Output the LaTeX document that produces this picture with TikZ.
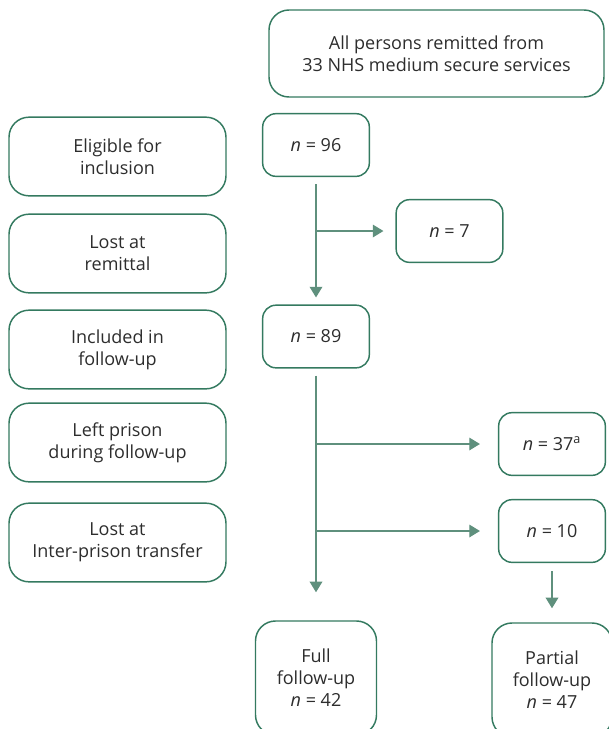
\documentclass[tikz,border=0pt]{standalone}
\usepackage{fontspec}
\setmainfont{Open Sans}
\usetikzlibrary{arrows.meta}

\definecolor{boxgreen}{RGB}{52,122,96}
\definecolor{arrowgreen}{RGB}{95,144,125}
\definecolor{textgrey}{RGB}{45,45,45}

\tikzset{
	stagebox/.style={draw=boxgreen, line width=1.1pt, rounded corners=15pt, align=center, text=textgrey, inner sep=0pt, font=\fontsize{13.5}{16.5}\selectfont},
	countbox/.style={stagebox, rounded corners=10pt, minimum width=80pt, minimum height=47pt},
	labelbox/.style={stagebox, minimum width=162.75pt, minimum height=59pt},
	flow/.style={draw=arrowgreen, line width=1pt, -{Triangle[width=9.5pt,length=8pt]}}
}

\begin{document}
\begin{tikzpicture}[x=0.75pt,y=0.75pt,yscale=-1,xscale=1]
	\useasboundingbox (0,0) rectangle (609,729);
	\clip (0,0) rectangle (609,729);
	
	% Top box
	\node [stagebox, minimum width=251.25pt, minimum height=65.25pt] (all) at (436.5,53.5) {All persons remitted from\\33 NHS medium secure services};
	
	% Left column
	\node [labelbox] (eligible) at (117.5,156.5) {Eligible for\\inclusion};
	\node [labelbox] (lostrem) at (117.5,253.5) {Lost at\\remittal};
	\node [labelbox] (included) at (117.5,349.5) {Included in\\follow-up};
	\node [labelbox] (leftpr) at (117.5,442.5) {Left prison\\during follow-up};
	\node [labelbox] (losttr) at (117.5,542.5) {Lost at\\Inter-prison transfer};
	
	% Counts
	\node [countbox] (n96) at (316,145) {\textit{n} = 96};
	\node [countbox] (n7) at (449.5,231) {\textit{n} = 7};
	\node [countbox] (n89) at (316,336.5) {\textit{n} = 89};
	\node [countbox] (n37) at (552,444) {\textit{n} = 37\textsuperscript{a}};
	\node [countbox] (n10) at (552,531) {\textit{n} = 10};
	
	% Outcomes (cut at the bottom edge)
	\node [stagebox, minimum width=90.75pt, minimum height=85.5pt] (full) at (316,678) {Full\\follow-up\\\textit{n} = 42};
	\node [stagebox, minimum width=90pt, minimum height=85.5pt] (partial) at (552,680) {Partial\\follow-up\\\textit{n} = 47};
	
	% Branch points
	\coordinate (b7) at (316,231);
	\coordinate (b37) at (316,444);
	\coordinate (b10) at (316,531);
	
	% Connectors
	\draw [flow, shorten <=5.25pt, shorten >=5.25pt] (n96) -- (n89);
	\draw [flow, shorten >=9pt] (b7) -- (n7);
	\draw [flow, shorten <=5.25pt, shorten >=21pt] (n89) -- (full);
	\draw [flow, shorten >=13.5pt] (b37) -- (n37);
	\draw [flow, shorten >=13.5pt] (b10) -- (n10);
	\draw [flow, shorten <=6pt, shorten >=10.5pt] (n10) -- (partial);
	
\end{tikzpicture}
\end{document}
